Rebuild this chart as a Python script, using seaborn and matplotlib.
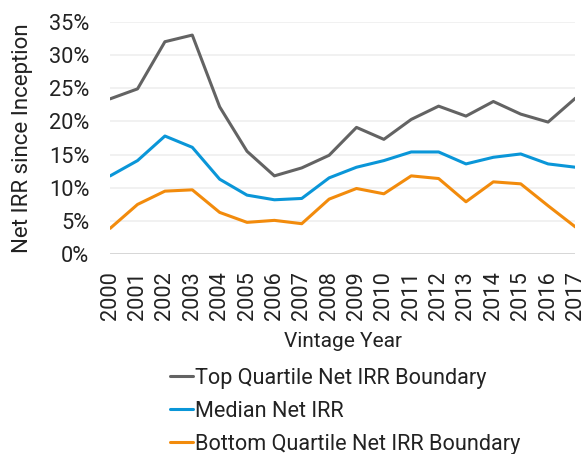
import matplotlib.pyplot as plt
import seaborn as sns
import pandas as pd
from matplotlib.ticker import PercentFormatter

years = list(range(2000, 2018))
top_quartile = [23.4, 24.9, 32.0, 33.0, 22.2, 15.5, 11.8, 13.0, 14.9, 19.1,
                17.3, 20.3, 22.3, 20.8, 23.0, 21.1, 19.9, 23.5]
median = [11.8, 14.1, 17.8, 16.1, 11.3, 8.9, 8.2, 8.4, 11.5, 13.1,
          14.1, 15.4, 15.4, 13.6, 14.6, 15.1, 13.6, 13.1]
bottom_quartile = [3.9, 7.5, 9.5, 9.7, 6.3, 4.8, 5.1, 4.6, 8.3, 9.9,
                   9.1, 11.8, 11.4, 7.9, 10.9, 10.6, 7.3, 4.1]
series_names = ["Top Quartile Net IRR Boundary", "Median Net IRR",
                "Bottom Quartile Net IRR Boundary"]
colors = ["#636363", "#0a96d8", "#f28b0c"]

df = pd.DataFrame({"Year": years, series_names[0]: top_quartile,
                   series_names[1]: median, series_names[2]: bottom_quartile})
df_long = df.melt(id_vars="Year", var_name="Series", value_name="IRR")

sns.set_style("white")
plt.rcParams["font.family"] = ["Roboto", "DejaVu Sans"]

fig = plt.figure(figsize=(5.86, 4.54), dpi=100)
ax = fig.add_axes([0.188, 0.44, 0.794, 0.512])

sns.lineplot(data=df_long, x="Year", y="IRR", hue="Series", hue_order=series_names,
             palette=colors, linewidth=2.2, ax=ax, legend=False)

ax.set_xlim(2000, 2017)
ax.set_ylim(0, 35)
ax.set_yticks(range(0, 36, 5))
ax.yaxis.set_major_formatter(PercentFormatter(decimals=0))
ax.set_xticks(years)
ax.set_xticklabels([str(y) for y in years], rotation=90)
ax.tick_params(axis="both", length=0, labelsize=15.7, colors="#222222")
ax.tick_params(axis="x", pad=12)
ax.tick_params(axis="y", pad=15)
ax.grid(axis="y", color="#efefef", linewidth=1.2)
ax.axhline(0, color="#d4d4d4", linewidth=2)
for s in ax.spines.values():
    s.set_visible(False)

ax.set_xlabel("Vintage Year", fontsize=15, color="#222222", labelpad=9)
ax.set_ylabel("Net IRR since Inception", fontsize=16, color="#222222")
ax.yaxis.set_label_coords(-0.165, 0.5)

handles = [plt.Line2D([], [], color=c, linewidth=2.2) for c in colors]
fig.legend(handles, series_names, loc="upper left", bbox_to_anchor=(0.29, 0.19),
           frameon=False, fontsize=15.6, handlelength=1.05, handletextpad=0.1,
           labelspacing=0.56, borderaxespad=0, borderpad=0, labelcolor="#222222")

fig.savefig("out.png", dpi=100)
